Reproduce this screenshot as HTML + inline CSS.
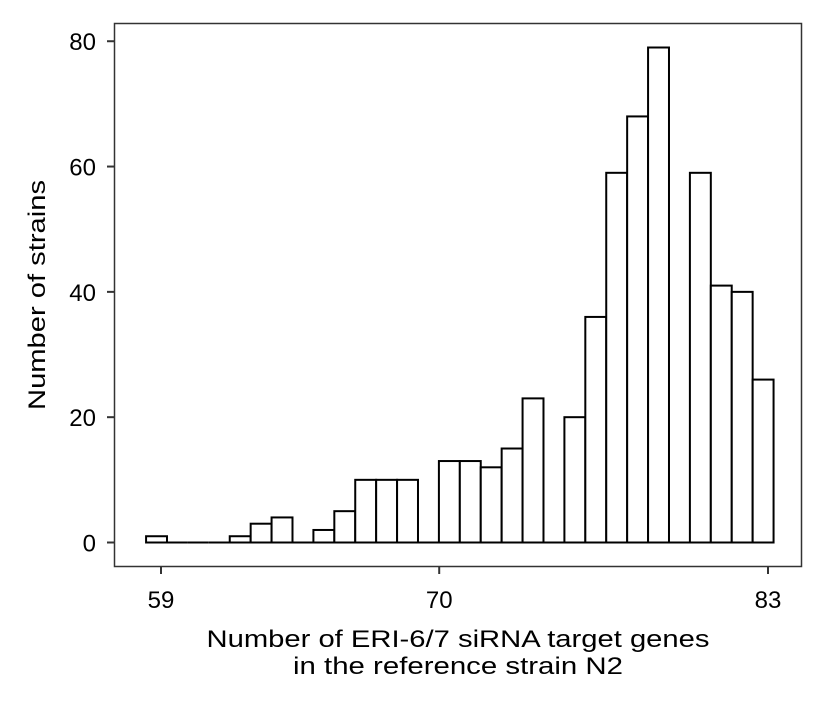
<!DOCTYPE html>
<html><head><meta charset="utf-8"><style>
html,body{margin:0;padding:0;background:#fff;}
svg text{font-family:"Liberation Sans",Arial,sans-serif;fill:#000;}
</style></head><body>
<svg id="chart" width="826" height="708" xmlns="http://www.w3.org/2000/svg">
<rect x="114.5" y="23.5" width="687" height="543" fill="#fff" stroke="#333" stroke-width="1.5"/>
<g id="bars"></g>
<g id="axes"></g>
<text transform="translate(45,295) rotate(-90)" text-anchor="middle" font-size="24" textLength="230" lengthAdjust="spacingAndGlyphs">Number of strains</text>
<text x="458" y="647" text-anchor="middle" font-size="24" textLength="503" lengthAdjust="spacingAndGlyphs">Number of ERI-6/7 siRNA target genes</text>
<text x="458" y="674" text-anchor="middle" font-size="24" textLength="330" lengthAdjust="spacingAndGlyphs">in the reference strain N2</text>
</svg>
<script>
const counts = [1,0,0,0,1,3,4,0,2,5,10,10,10,0,13,13,12,15,23,0,20,36,59,68,79,0,59,41,40,26];
const binStart = 58.41;
const binWidth = 0.827;
const yTicks = [0,20,40,60,80];
const xTicks = [59,70,83];
const NS = "http://www.w3.org/2000/svg";
function xs(v){ return 161 + (v-59)*(768-161)/(83-59); }
function ys(v){ return 542.5 - v*(542.5-47.5)/79; }
const bars = document.getElementById('bars');
counts.forEach((c,i)=>{
  const x0 = xs(binStart+i*binWidth), x1 = xs(binStart+(i+1)*binWidth);
  if (c === 0) {
    const l = document.createElementNS(NS,'line');
    
    
    l.setAttribute('x1',x0); l.setAttribute('x2',x1); l.setAttribute('y1',ys(0)); l.setAttribute('y2',ys(0));
    l.setAttribute('stroke','#000'); l.setAttribute('stroke-width','2');
    bars.appendChild(l);
    return;
  }
  const r = document.createElementNS(NS,'rect');
  
  
  r.setAttribute('x',x0); r.setAttribute('width',x1-x0);
  r.setAttribute('y',ys(c)); r.setAttribute('height',ys(0)-ys(c));
  r.setAttribute('fill','#fff'); r.setAttribute('stroke','#000'); r.setAttribute('stroke-width','2');
  bars.appendChild(r);
});
const axes = document.getElementById('axes');
yTicks.forEach(t=>{
  const l = document.createElementNS(NS,'line');
  
  
  l.setAttribute('x1',107); l.setAttribute('x2',114); l.setAttribute('y1',ys(t)); l.setAttribute('y2',ys(t));
  l.setAttribute('stroke','#333'); l.setAttribute('stroke-width','2');
  axes.appendChild(l);
  const tx = document.createElementNS(NS,'text');
  
  
  tx.setAttribute('x',96); tx.setAttribute('y',ys(t)+9); tx.setAttribute('text-anchor','end'); tx.setAttribute('font-size','24');
  tx.textContent = t; axes.appendChild(tx);
});
xTicks.forEach(t=>{
  const l = document.createElementNS(NS,'line');
  
  
  l.setAttribute('x1',xs(t)); l.setAttribute('x2',xs(t)); l.setAttribute('y1',567); l.setAttribute('y2',574);
  l.setAttribute('stroke','#333'); l.setAttribute('stroke-width','2');
  axes.appendChild(l);
  const tx = document.createElementNS(NS,'text');
  
  
  tx.setAttribute('x',xs(t)); tx.setAttribute('y',608); tx.setAttribute('text-anchor','middle'); tx.setAttribute('font-size','24');
  tx.textContent = t; axes.appendChild(tx);
});
</script>
</body></html>
